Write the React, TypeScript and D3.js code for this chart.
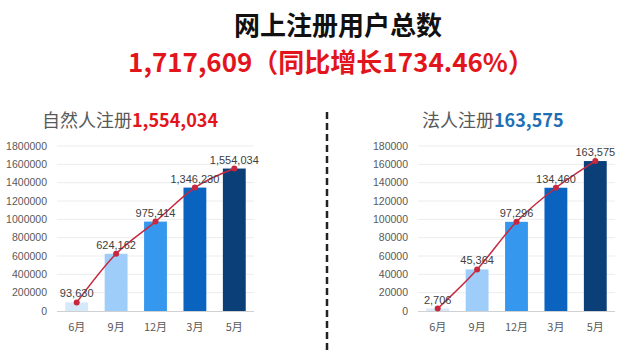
import React, { useRef, useEffect } from 'react';
import * as d3 from 'd3';

const months = ['6月', '9月', '12月', '3月', '5月'];
const personValues = [93630, 624162, 975414, 1346230, 1554034];
const companyValues = [2706, 45364, 97296, 134460, 163575];
const personTicks = [0, 200000, 400000, 600000, 800000, 1000000, 1200000, 1400000, 1600000, 1800000];
const companyTicks = [0, 20000, 40000, 60000, 80000, 100000, 120000, 140000, 160000, 180000];
const barColors = ['#d5e9fb', '#9dcdf8', '#3597ee', '#0b63c0', '#0b3f78'];

const CJK = '"Noto Sans CJK SC", "Noto Sans", sans-serif';
const LATIN = '"Liberation Sans", Arial, sans-serif';

type Panel = {
  values: number[];
  ticks: number[];
  left: number;
  right: number;
};

const App = () => {
  const svgRef = useRef<SVGSVGElement>(null);

  useEffect(() => {
    const svg = d3.select(svgRef.current);
    svg.selectAll('*').remove();

    const top = 146;
    const bottom = 311;
    const fmt = d3.format(',');

    const drawPanel = ({ values, ticks, left, right }: Panel) => {
      const x = d3.scaleBand<string>()
        .domain(months)
        .range([left, right])
        .paddingInner(0.42)
        .paddingOuter(0.21);

      const y = d3.scaleLinear()
        .domain([0, ticks[ticks.length - 1]])
        .range([bottom, top]);

      const g = svg.append('g');

      // gridlines
      g.selectAll('.grid')
        .data(ticks.slice(1))
        .enter()
        .append('line')
        .attr('x1', left)
        .attr('x2', right)
        .attr('y1', d => y(d))
        .attr('y2', d => y(d))
        .attr('stroke', '#ececec')
        .attr('stroke-width', 1);

      // y labels
      g.selectAll('.ylab')
        .data(ticks)
        .enter()
        .append('text')
        .attr('x', left - 10)
        .attr('y', d => y(d))
        .attr('dy', '0.35em')
        .attr('text-anchor', 'end')
        .style('font-family', LATIN)
        .style('font-size', '10.5px')
        .attr('fill', '#595959')
        .text(d => d);

      // bars
      g.selectAll('.bar')
        .data(values)
        .enter()
        .append('rect')
        .attr('x', (d, i) => x(months[i])!)
        .attr('y', d => y(d))
        .attr('width', x.bandwidth())
        .attr('height', d => bottom - y(d))
        .attr('fill', (d, i) => barColors[i]);

      // baseline
      g.append('line')
        .attr('x1', left)
        .attr('x2', right)
        .attr('y1', bottom + 0.5)
        .attr('y2', bottom + 0.5)
        .attr('stroke', '#d0d0d0');

      // x labels
      g.selectAll('.xlab')
        .data(months)
        .enter()
        .append('text')
        .attr('x', d => x(d)! + x.bandwidth() / 2)
        .attr('y', 331)
        .attr('text-anchor', 'middle')
        .style('font-family', CJK)
        .style('font-size', '11px')
        .attr('fill', '#595959')
        .text(d => d);

      // trend line
      const line = d3.line<number>()
        .x((d, i) => x(months[i])! + x.bandwidth() / 2)
        .y(d => y(d))
        .curve(d3.curveMonotoneX);

      g.append('path')
        .datum(values)
        .attr('d', line)
        .attr('fill', 'none')
        .attr('stroke', '#c8283e')
        .attr('stroke-width', 1.5);

      g.selectAll('.dot')
        .data(values)
        .enter()
        .append('circle')
        .attr('cx', (d, i) => x(months[i])! + x.bandwidth() / 2)
        .attr('cy', d => y(d))
        .attr('r', 3)
        .attr('fill', '#c8283e');

      // value labels
      g.selectAll('.vlab')
        .data(values)
        .enter()
        .append('text')
        .attr('x', (d, i) => x(months[i])! + x.bandwidth() / 2)
        .attr('y', d => y(d) - 5)
        .attr('text-anchor', 'middle')
        .style('font-family', LATIN)
        .style('font-size', '11px')
        .attr('fill', '#404040')
        .text(d => fmt(d));
    };

    drawPanel({ values: personValues, ticks: personTicks, left: 57, right: 254 });
    drawPanel({ values: companyValues, ticks: companyTicks, left: 418, right: 615 });

    // headline
    svg.append('text')
      .attr('x', 338)
      .attr('y', 35)
      .attr('text-anchor', 'middle')
      .style('font-family', CJK)
      .style('font-size', '26px')
      .style('font-weight', '700')
      .attr('fill', '#111')
      .text('网上注册用户总数');

    svg.append('text')
      .attr('x', 331)
      .attr('y', 72)
      .attr('text-anchor', 'middle')
      .style('font-family', CJK)
      .style('font-size', '26px')
      .style('font-weight', '700')
      .attr('fill', '#e3151c')
      .text('1,717,609（同比增长1734.46%）');

    // panel subtitles
    const sub1 = svg.append('text')
      .attr('x', 42)
      .attr('y', 127)
      .style('font-family', CJK)
      .style('font-size', '18px');
    sub1.append('tspan').attr('fill', '#595959').text('自然人注册');
    sub1.append('tspan').attr('fill', '#e3151c').style('font-weight', '700').text(fmt(personValues[4]));

    const sub2 = svg.append('text')
      .attr('x', 422)
      .attr('y', 127)
      .style('font-family', CJK)
      .style('font-size', '18px');
    sub2.append('tspan').attr('fill', '#595959').text('法人注册');
    sub2.append('tspan').attr('fill', '#1f6fb5').style('font-weight', '700').text(fmt(companyValues[4]));

    // divider
    svg.append('line')
      .attr('x1', 327)
      .attr('x2', 327)
      .attr('y1', 112)
      .attr('y2', 350)
      .attr('stroke', '#222')
      .attr('stroke-width', 2.5)
      .attr('stroke-dasharray', '7,4');
  }, []);

  return (
    <svg
      ref={svgRef}
      width={640}
      height={352}
      style={{ position: 'absolute', left: 0, top: 0, background: '#fff' }}
    />
  );
};

export default App;
